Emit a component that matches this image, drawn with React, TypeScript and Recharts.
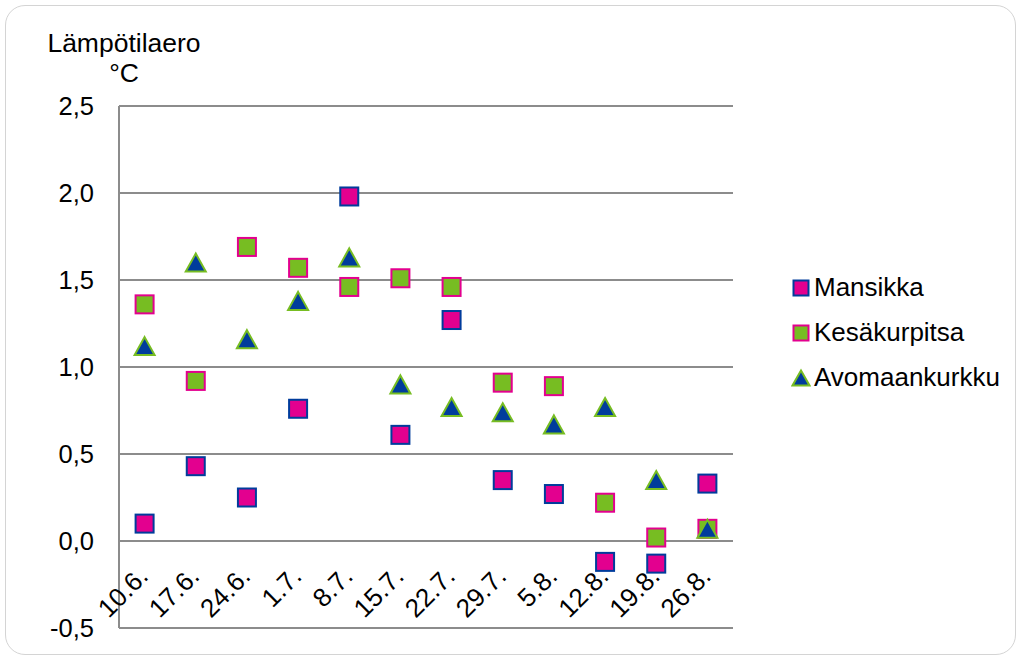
import React from "react";
import {
  LineChart,
  Line,
  XAxis,
  YAxis,
  CartesianGrid,
  Legend,
} from "recharts";

const dates = [
  "10.6.", "17.6.", "24.6.", "1.7.", "8.7.", "15.7.",
  "22.7.", "29.7.", "5.8.", "12.8.", "19.8.", "26.8.",
];

const mansikka = [0.1, 0.43, 0.25, 0.76, 1.98, 0.61, 1.27, 0.35, 0.27, -0.12, -0.13, 0.33];
const kesakurpitsa = [1.36, 0.92, 1.69, 1.57, 1.46, 1.51, 1.46, 0.91, 0.89, 0.22, 0.02, 0.07];
const avomaankurkku = [1.12, 1.6, 1.16, 1.38, 1.63, 0.9, 0.77, 0.74, 0.67, 0.77, 0.35, 0.07];

const yTicks = [-0.5, 0, 0.5, 1, 1.5, 2, 2.5];

const FONT = "'Liberation Sans', Arial, sans-serif";
const MAGENTA = "#e3008f";
const GREEN = "#77bd22";
const BLUE = "#003c9c";
const GRID = "#8c8c8c";

type Shape = "square" | "triangle";

const series: { key: string; name: string; fill: string; stroke: string; shape: Shape }[] = [
  { key: "mansikka", name: "Mansikka", fill: MAGENTA, stroke: BLUE, shape: "square" },
  { key: "kesakurpitsa", name: "Kesäkurpitsa", fill: GREEN, stroke: MAGENTA, shape: "square" },
  { key: "avomaankurkku", name: "Avomaankurkku", fill: BLUE, stroke: GREEN, shape: "triangle" },
];

const data = dates.map((d, i) => ({
  date: d,
  mansikka: mansikka[i],
  kesakurpitsa: kesakurpitsa[i],
  avomaankurkku: avomaankurkku[i],
}));

function Marker({ cx, cy, size, fill, stroke, shape }: {
  cx: number; cy: number; size: number; fill: string; stroke: string; shape: Shape;
}) {
  const h = size / 2;
  if (shape === "triangle") {
    const pts = `${cx},${cy - h} ${cx + h + 1},${cy + h} ${cx - h - 1},${cy + h}`;
    return <polygon points={pts} fill={fill} stroke={stroke} strokeWidth={2} strokeLinejoin="miter" />;
  }
  return <rect x={cx - h} y={cy - h} width={size} height={size} fill={fill} stroke={stroke} strokeWidth={2} />;
}

const makeDot = (s: (typeof series)[number]) => (props: any) => {
  const { cx, cy, index } = props;
  if (cx == null || cy == null) return <g key={index} />;
  return (
    <g key={`${s.key}-${index}`}>
      <Marker cx={cx} cy={cy} size={18} fill={s.fill} stroke={s.stroke} shape={s.shape} />
    </g>
  );
};

// category labels hang diagonally just under the zero line
const DateTick = (props: any) => {
  const { x, y, payload } = props;
  const tx = x + 5;
  const ty = y - 50;
  return (
    <text
      x={tx}
      y={ty}
      transform={`rotate(-45, ${tx}, ${ty})`}
      textAnchor="end"
      fontFamily={FONT}
      fontSize={26}
      fill="#000"
    >
      {payload.value}
    </text>
  );
};

const LegendBox = () => (
  <div style={{ fontFamily: FONT, fontSize: 26, color: "#000" }}>
    {series.map((s) => (
      <div key={s.key} style={{ display: "flex", alignItems: "center", height: 45 }}>
        <svg width={20} height={20} style={{ marginRight: 3 }}>
          <Marker cx={10} cy={10} size={15} fill={s.fill} stroke={s.stroke} shape={s.shape} />
        </svg>
        <span>{s.name}</span>
      </div>
    ))}
  </div>
);

const AxisTitle = (props: any) => {
  const { viewBox } = props;
  const cx = viewBox.x + viewBox.width + 5;
  return (
    <text fontFamily={FONT} fontSize={26.5} fill="#000" textAnchor="middle">
      <tspan x={cx} y={52}>Lämpötilaero</tspan>
      <tspan x={cx} y={82}>°C</tspan>
    </text>
  );
};

export default function App() {
  return (
    <div style={{ position: "absolute", left: 0, top: 0, width: 1021, height: 660, background: "#fff" }}>
      <div
        style={{
          position: "absolute",
          left: 5,
          top: 5,
          width: 1011,
          height: 650,
          border: "1px solid #d4d4d4",
          borderRadius: 20,
          boxSizing: "border-box",
        }}
      />
      <div style={{ position: "absolute", left: 0, top: 0 }}>
        <LineChart
          width={1021}
          height={660}
          data={data}
          margin={{ top: 106, right: 288, bottom: 30, left: 59 }}
        >
          <CartesianGrid vertical={false} stroke={GRID} strokeWidth={2} />
          <XAxis
            dataKey="date"
            height={2}
            axisLine={false}
            tickLine={false}
            tickSize={0}
            tickMargin={0}
            interval={0}
            padding={{ left: 25.6, right: 25.6 }}
            tick={<DateTick />}
          />
          <YAxis
            type="number"
            domain={[-0.5, 2.5]}
            ticks={yTicks}
            width={60}
            axisLine={{ stroke: GRID, strokeWidth: 2 }}
            tickLine={false}
            tickSize={0}
            tickMargin={25}
            tick={{ fontFamily: FONT, fontSize: 25.5, fill: "#000" }}
            tickFormatter={(v: number) => v.toFixed(1).replace(".", ",")}
            label={<AxisTitle />}
          />
          <Legend
            layout="vertical"
            align="center"
            verticalAlign="middle"
            content={<LegendBox />}
            wrapperStyle={{ left: 791, top: 265, width: 225 }}
          />
          {series.map((s) => (
            <Line
              key={s.key}
              dataKey={s.key}
              name={s.name}
              stroke="none"
              strokeWidth={0}
              dot={makeDot(s)}
              activeDot={false}
              isAnimationActive={false}
            />
          ))}
        </LineChart>
      </div>
    </div>
  );
}
